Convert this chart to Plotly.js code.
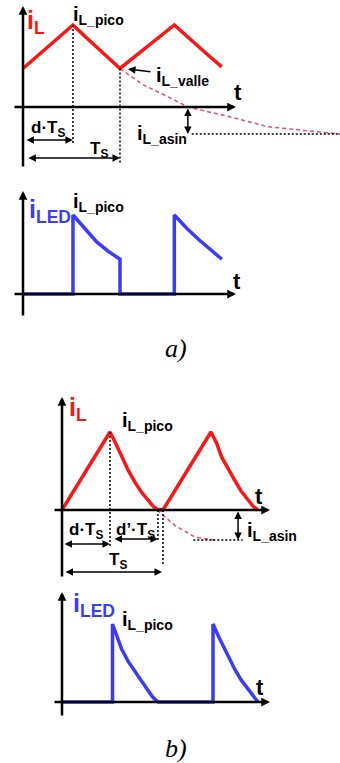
<!DOCTYPE html>
<html>
<head>
<meta charset="utf-8">
<script src="https://cdn.plot.ly/plotly-3.0.1.min.js"></script>
<style>
  html, body { margin: 0; padding: 0; background: #fff; }
  #chart { width: 340px; height: 763px; }
</style>
</head>
<body>
<div id="chart"></div>
<script>
// Time in units of Ts, current in units of i_L_pico.

// a) continuous conduction
const aDuty = 0.515;                 // d
const aTs = 1.0;
const aIlT = [0, 0.515, 0.64, 0.76, 0.88, 1.0, 1.56, 1.69, 1.81, 1.93, 2.05];
const aIlI = [0.47, 1.0, 0.86, 0.73, 0.59, 0.47, 1.0, 0.86, 0.74, 0.61, 0.49];
const aTailT = [1.0, 1.24, 1.52, 1.70, 2.17, 2.52, 3.27];
const aTailI = [0.47, 0.27, 0.11, 0, -0.13, -0.24, -0.33];
const aAsin = -0.33;
const aLedT = [0, 0.515, 0.515, 0.64, 0.76, 0.88, 1.0, 1.0, 1.56, 1.56, 1.69, 1.82, 1.94, 2.05];
const aLedI = [0, 0, 1.0, 0.82, 0.66, 0.54, 0.44, 0, 0, 1.0, 0.83, 0.68, 0.55, 0.44];

// b) discontinuous conduction
const bDuty = 0.475;                 // d
const bDutyOff = 0.95;               // d + d'
const bTs = 1.0;
const bIlT = [0, 0.475, 0.53, 0.59, 0.655, 0.72, 0.785, 0.85, 0.9, 0.94, 1.0,
              1.475, 1.53, 1.58, 1.645, 1.71, 1.775, 1.84, 1.89, 1.94];
const bIlI = [0, 1.0, 0.86, 0.68, 0.51, 0.36, 0.23, 0.13, 0.05, 0.01, 0,
              1.0, 0.86, 0.68, 0.52, 0.38, 0.24, 0.13, 0.05, 0];
const bTailT = [0.94, 1.12, 1.32, 1.52];
const bTailI = [0, -0.2, -0.35, -0.385];
const bAsin = -0.385;
const bLedT = [0, 0.5, 0.5, 0.545, 0.59, 0.655, 0.72, 0.785, 0.85, 0.9, 0.95,
               1.495, 1.495, 1.55, 1.61, 1.66, 1.71, 1.775, 1.84, 1.89, 1.94];
const bLedI = [0, 0, 1.0, 0.84, 0.68, 0.52, 0.39, 0.26, 0.15, 0.06, 0,
               0, 1.0, 0.84, 0.68, 0.54, 0.42, 0.28, 0.17, 0.07, 0];

const W = 340, H = 763;
const FONT = '"Liberation Sans", Arial, sans-serif';
const SERIF = '"Liberation Serif", "Times New Roman", serif';
const RED = '#ff1414', BLUE = '#3b3bff', PINK = '#e4506e';

// Pixel frame of each sub-diagram: origin column, px per Ts, band, zero row, px per unit current
const frames = [
  { x0: 23, s: 97,  top: 0,   bot: 176, zero: 107, k: 82 },  // a) i_L
  { x0: 23, s: 97,  top: 176, bot: 335, zero: 294, k: 79 },  // a) i_LED
  { x0: 62, s: 101, top: 380, bot: 585, zero: 510, k: 78 },  // b) i_L
  { x0: 62, s: 101, top: 585, bot: 730, zero: 702, k: 78 }   // b) i_LED
];
const refs = frames.map((f, n) => ({ x: 'x' + (n ? n + 1 : ''), y: 'y' + (n ? n + 1 : '') }));
const T = (f, px) => (px - f.x0) / f.s;
const I = (f, py) => (f.zero - py) / f.k;

const layout = {
  width: W, height: H,
  margin: { l: 0, r: 0, t: 0, b: 0 },
  paper_bgcolor: '#fff', plot_bgcolor: 'rgba(0,0,0,0)',
  showlegend: false,
  annotations: [], shapes: []
};
frames.forEach((f, n) => {
  const sfx = n ? n + 1 : '';
  layout['xaxis' + sfx] = { domain: [0, 1], range: [-f.x0 / f.s, (W - f.x0) / f.s],
    visible: false, fixedrange: true, anchor: 'y' + sfx };
  layout['yaxis' + sfx] = { domain: [1 - f.bot / H, 1 - f.top / H],
    range: [(f.zero - f.bot) / f.k, (f.zero - f.top) / f.k],
    visible: false, fixedrange: true, anchor: 'x' + sfx };
});

const ann = layout.annotations, shp = layout.shapes;

function arrow(r, t0, i0, t1, i1, w, both, size) {
  return { xref: r.x, yref: r.y, axref: r.x, ayref: r.y, ax: t0, ay: i0, x: t1, y: i1,
    text: '', showarrow: true, arrowhead: 2, startarrowhead: 2,
    arrowside: both ? 'end+start' : 'end', arrowwidth: w, arrowsize: size || 1,
    startarrowsize: size || 1, arrowcolor: '#000' };
}
function label(r, t, i, text, size, color, xanchor) {
  return { xref: r.x, yref: r.y, x: t, y: i, text: text, showarrow: false,
    xanchor: xanchor || 'left', yanchor: 'middle',
    font: { family: FONT, size: size, color: color || '#000' } };
}
function dotted(r, t0, i0, t1, i1) {
  return { type: 'line', xref: r.x, yref: r.y, x0: t0, y0: i0, x1: t1, y1: i1,
    line: { color: '#000', width: 1.5, dash: '2px,2px' } };
}
function axes(n, yBot, yTop, xL, xR) {
  const f = frames[n], r = refs[n];
  ann.push(arrow(r, 0, I(f, yBot), 0, I(f, yTop), 2.5, false, 0.7));
  ann.push(arrow(r, T(f, xL), 0, T(f, xR), 0, 2.5, false, 0.7));
}

const traces = [];
function line(n, x, y, color, width, dash) {
  traces.push({ type: 'scatter', mode: 'lines', x: x, y: y, xaxis: refs[n].x, yaxis: refs[n].y,
    line: { color: color, width: width, dash: dash || 'solid' }, hoverinfo: 'skip' });
}

// ---- a) i_L ----
{
  const f = frames[0], r = refs[0];
  axes(0, 168, 6, 13, 236);
  shp.push(dotted(r, aDuty, 1.0, aDuty, I(f, 143)));
  shp.push(dotted(r, aTs, aIlI[5], aTs, I(f, 163)));
  line(0, aTailT, aTailI, PINK, 1.5, '4px,3px');
  line(0, aIlT, aIlI, RED, 3.5);
  line(0, [1.74, aTailT[aTailT.length - 1]], [aAsin, aAsin], '#000', 1.5, '2px,2px');
  ann.push(arrow(r, 0.02, I(f, 140), aDuty, I(f, 140), 1.5, true));
  ann.push(arrow(r, 0.04, I(f, 158), aTs, I(f, 158), 1.5, true));
  ann.push(arrow(r, 1.70, 0, 1.70, aAsin, 1.5, true));
  ann.push(arrow(r, T(f, 152), I(f, 72), T(f, 128), I(f, 69), 1.5, false));
  ann.push(label(r, T(f, 25), I(f, 22), '<b>i<sub>L</sub></b>', 25, RED));
  ann.push(label(r, T(f, 71), I(f, 15), '<b>i<sub>L_pico</sub></b>', 20));
  ann.push(label(r, T(f, 154), I(f, 76), '<b>i<sub>L_valle</sub></b>', 20));
  ann.push(label(r, T(f, 238), I(f, 92), '<b>t</b>', 22, '#000', 'center'));
  ann.push(label(r, T(f, 29), I(f, 129), '<b>d·T<sub>S</sub></b>', 17));
  ann.push(label(r, T(f, 99), I(f, 150), '<b>T<sub>S</sub></b>', 17, '#000', 'center'));
  ann.push(label(r, T(f, 135), I(f, 134), '<b>i<sub>L_asin</sub></b>', 20));
}

// ---- a) i_LED ----
{
  const f = frames[1], r = refs[1];
  axes(1, 317, 191, 13, 236);
  line(1, aLedT, aLedI, BLUE, 3.5);
  ann.push(label(r, T(f, 27), I(f, 211), '<b>i<sub>LED</sub></b>', 25, BLUE));
  ann.push(label(r, T(f, 71), I(f, 203), '<b>i<sub>L_pico</sub></b>', 20));
  ann.push(label(r, T(f, 237), I(f, 281), '<b>t</b>', 22, '#000', 'center'));
}

// ---- b) i_L ----
{
  const f = frames[2], r = refs[2];
  axes(2, 578, 397, 53, 270);
  shp.push(dotted(r, bDuty, 1.0, bDuty, I(f, 547)));
  shp.push(dotted(r, bDutyOff, 0, bDutyOff, I(f, 541)));
  shp.push(dotted(r, bTs, 0, bTs, I(f, 564)));
  line(2, bTailT, bTailI, PINK, 1.5, '4px,3px');
  line(2, bIlT, bIlI, RED, 3.5);
  line(2, [1.30, 1.79], [bAsin, bAsin], '#000', 1.5, '2px,2px');
  ann.push(arrow(r, 0.01, I(f, 544), bDuty, I(f, 544), 1.5, true));
  ann.push(arrow(r, bDuty + 0.03, I(f, 539), bDutyOff, I(f, 539), 1.5, true));
  ann.push(arrow(r, 0.02, I(f, 572), bTs - 0.01, I(f, 572), 1.5, true));
  ann.push(arrow(r, 1.743, 0, 1.743, bAsin, 1.5, true));
  ann.push(label(r, T(f, 67), I(f, 409), '<b>i<sub>L</sub></b>', 25, RED));
  ann.push(label(r, T(f, 120), I(f, 421), '<b>i<sub>L_pico</sub></b>', 20));
  ann.push(label(r, T(f, 259), I(f, 496), '<b>t</b>', 22, '#000', 'center'));
  ann.push(label(r, T(f, 86), I(f, 531), '<b>d·T<sub>S</sub></b>', 17, '#000', 'center'));
  ann.push(label(r, T(f, 135), I(f, 531), '<b>d’·T<sub>S</sub></b>', 17, '#000', 'center'));
  ann.push(label(r, T(f, 118), I(f, 561), '<b>T<sub>S</sub></b>', 17, '#000', 'center'));
  ann.push(label(r, T(f, 245), I(f, 531), '<b>i<sub>L_asin</sub></b>', 20));
}

// ---- b) i_LED ----
{
  const f = frames[3], r = refs[3];
  axes(3, 717, 592, 53, 270);
  line(3, bLedT, bLedI, BLUE, 3.5);
  ann.push(label(r, T(f, 71), I(f, 605), '<b>i<sub>LED</sub></b>', 25, BLUE));
  ann.push(label(r, T(f, 120), I(f, 620), '<b>i<sub>L_pico</sub></b>', 20));
  ann.push(label(r, T(f, 260), I(f, 687), '<b>t</b>', 22, '#000', 'center'));
}

// Sub-figure captions
ann.push({ xref: 'paper', yref: 'paper', x: 176 / W, y: 1 - 348 / H, text: '<i>a)</i>',
  showarrow: false, xanchor: 'center', yanchor: 'middle', font: { family: SERIF, size: 26, color: '#000' } });
ann.push({ xref: 'paper', yref: 'paper', x: 176 / W, y: 1 - 748 / H, text: '<i>b)</i>',
  showarrow: false, xanchor: 'center', yanchor: 'middle', font: { family: SERIF, size: 26, color: '#000' } });

Plotly.newPlot('chart', traces, layout, { staticPlot: true, displayModeBar: false });
</script>
</body>
</html>
